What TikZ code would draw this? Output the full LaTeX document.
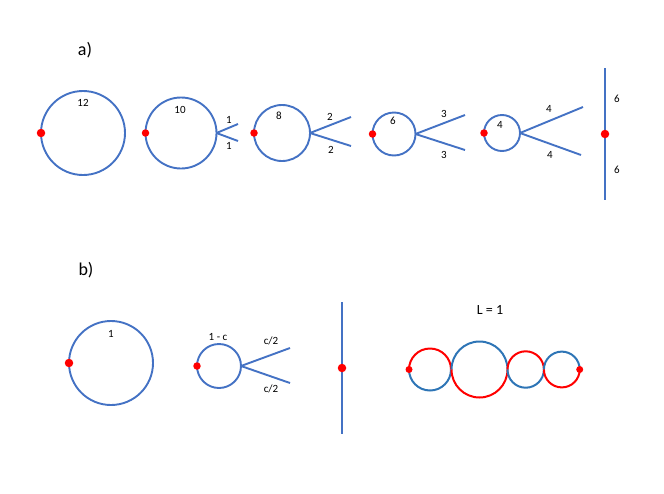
\documentclass[tikz,border=0pt]{standalone}
\usepackage{fontspec}
\setmainfont{Carlito}
\usetikzlibrary{calc}
\definecolor{lineblue}{HTML}{4472C4}
\definecolor{chainblue}{HTML}{2E75B6}
\tikzset{
  ring/.style={circle, draw=lineblue, line width=1.9pt, inner sep=0pt, outer sep=0pt},
  leg/.style={lineblue, line width=1.9pt},
  dot/.style={circle, fill=red, inner sep=0pt, minimum size=8.5pt},
  lbl/.style={font=\fontsize{11}{13}\selectfont, inner sep=0pt},
  head/.style={font=\fontsize{18}{20}\selectfont, inner sep=0pt},
  halfred/.style={red, line width=2pt},
  halfblue/.style={chainblue, line width=2pt},
}
\begin{document}
\begin{tikzpicture}[x=1pt, y=-1pt]
  \useasboundingbox (0,0) rectangle (664,493);
  % a)
  \node[head] (ha) at (85,50) {a)};
  \node[ring, minimum size=84pt] (a1) at (83,133) {};
  \node[ring, minimum size=71pt] (a2) at (181,133) {};
  \node[ring, minimum size=56pt] (a3) at (282,133) {};
  \node[ring, minimum size=43pt] (a4) at (394,134) {};
  \node[ring, minimum size=36pt] (a5) at (502,133) {};
  \coordinate (a2u) at (238,124); \coordinate (a2d) at (238,141);
  \coordinate (a3u) at (351,117); \coordinate (a3d) at (351,146);
  \coordinate (a4u) at (465,115); \coordinate (a4d) at (465,150);
  \coordinate (a5u) at (583,107); \coordinate (a5d) at (581,155);
  \coordinate (a6t) at (605,68); \coordinate (a6b) at (605,200);
  \draw[leg] (a2.east) -- (a2u); \draw[leg] (a2.east) -- (a2d);
  \draw[leg] (a3.east) -- (a3u); \draw[leg] (a3.east) -- (a3d);
  \draw[leg] (a4.east) -- (a4u); \draw[leg] (a4.east) -- (a4d);
  \draw[leg] (a5.east) -- (a5u); \draw[leg] (a5.east) -- (a5d);
  \draw[leg] (a6t) -- (a6b);
  \node[dot] (pa1) at (a1.west) {};
  \node[dot, minimum size=7.5pt] (pa2) at (a2.west) {};
  \node[dot, minimum size=7.5pt] (pa3) at (a3.west) {};
  \node[dot, minimum size=7.5pt] (pa4) at (a4.west) {};
  \node[dot, minimum size=7.5pt] (pa5) at (a5.west) {};
  \node[dot] (pa6) at (605,134) {};
  \node[lbl] (la1) at (83,103) {12};
  \node[lbl] (la2) at (180,110) {10};
  \node[lbl] (la2u) at (229,120) {1}; \node[lbl] (la2d) at (229,146) {1};
  \node[lbl] (la3) at (279,116) {8};
  \node[lbl] (la3u) at (330,117) {2}; \node[lbl] (la3d) at (331,150) {2};
  \node[lbl] (la4) at (393,121) {6};
  \node[lbl] (la4u) at (444,114) {3}; \node[lbl] (la4d) at (444,155) {3};
  \node[lbl] (la5) at (500,125) {4};
  \node[lbl] (la5u) at (549,109) {4}; \node[lbl] (la5d) at (550,155) {4};
  \node[lbl] (la6u) at (617,99) {6}; \node[lbl] (la6d) at (617,170) {6};
  % b)
  \node[head] (hb) at (86,270) {b)};
  \node[ring, minimum size=84pt] (b1) at (111,363) {};
  \node[ring, minimum size=44pt] (b2) at (219,366) {};
  \coordinate (b2u) at (290,348); \coordinate (b2d) at (290,383);
  \coordinate (b3t) at (342,302); \coordinate (b3b) at (342,434);
  \draw[leg] (b2.east) -- (b2u); \draw[leg] (b2.east) -- (b2d);
  \draw[leg] (b3t) -- (b3b);
  \node[dot] (pb1) at (b1.west) {};
  \node[dot, minimum size=7.5pt] (pb2) at (b2.west) {};
  \node[dot] (pb3) at (342,368) {};
  \node[lbl] (lb1) at (111,334) {1};
  \node[lbl] (lb2) at (218,337) {1 - c};
  \node[lbl] (lb2u) at (271,341) {c/2}; \node[lbl] (lb2d) at (271,389) {c/2};
  % chain, L = 1
  \node[font=\fontsize{14}{16}\selectfont, inner sep=0pt] (lc) at (490,310) {L = 1};
  \coordinate (k1) at (430,369.5); \coordinate (k2) at (479.5,369.5);
  \coordinate (k3) at (525.7,369.5); \coordinate (k4) at (561.8,369.5);
  \draw[halfred] ($(k1)+(-21,0)$) arc[start angle=180, end angle=360, radius=21];
  \draw[halfblue] ($(k1)+(-21,0)$) arc[start angle=180, end angle=0, radius=21];
  \draw[halfblue] ($(k2)+(-28,0)$) arc[start angle=180, end angle=360, radius=28];
  \draw[halfred] ($(k2)+(-28,0)$) arc[start angle=180, end angle=0, radius=28];
  \draw[halfred] ($(k3)+(-18.2,0)$) arc[start angle=180, end angle=360, radius=18.2];
  \draw[halfblue] ($(k3)+(-18.2,0)$) arc[start angle=180, end angle=0, radius=18.2];
  \draw[halfblue] ($(k4)+(-17.9,0)$) arc[start angle=180, end angle=360, radius=17.9];
  \draw[halfred] ($(k4)+(-17.9,0)$) arc[start angle=180, end angle=0, radius=17.9];
  \node[dot, minimum size=7pt] (pc1) at (409,369.5) {};
  \node[dot, minimum size=7pt] (pc2) at (579.7,369.5) {};
\end{tikzpicture}
\end{document}
